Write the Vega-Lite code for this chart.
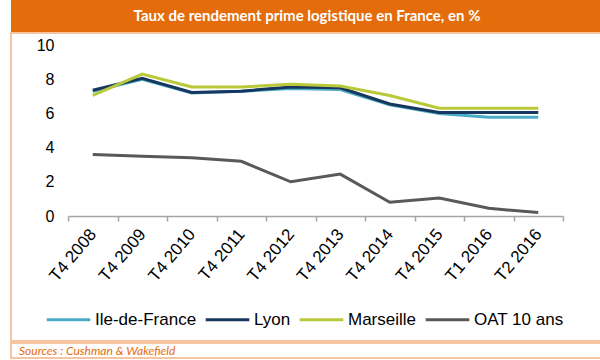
{
  "$schema": "https://vega.github.io/schema/vega-lite/v6.json",
  "background": "white",
  "padding": {"left": 3, "top": 0, "right": 0, "bottom": 0},
  "spacing": 0,
  "config": {"view": {"stroke": null}, "font": "Liberation Sans", "concat": {"spacing": 0}},
  "datasets": {
    "header": [{"h": "Taux de rendement prime logistique en France, en %"}],
    "footer": [{"f": "Sources : Cushman & Wakefield"}],
    "rates": [
      {"t": "T4 2008", "s": "Ile-de-France", "v": 7.3},
      {"t": "T4 2009", "s": "Ile-de-France", "v": 8.0},
      {"t": "T4 2010", "s": "Ile-de-France", "v": 7.2},
      {"t": "T4 2011", "s": "Ile-de-France", "v": 7.3},
      {"t": "T4 2012", "s": "Ile-de-France", "v": 7.45},
      {"t": "T4 2013", "s": "Ile-de-France", "v": 7.4},
      {"t": "T4 2014", "s": "Ile-de-France", "v": 6.5},
      {"t": "T4 2015", "s": "Ile-de-France", "v": 6.0},
      {"t": "T1 2016", "s": "Ile-de-France", "v": 5.78},
      {"t": "T2 2016", "s": "Ile-de-France", "v": 5.78},
      {"t": "T4 2008", "s": "Lyon", "v": 7.35},
      {"t": "T4 2009", "s": "Lyon", "v": 8.05},
      {"t": "T4 2010", "s": "Lyon", "v": 7.22},
      {"t": "T4 2011", "s": "Lyon", "v": 7.3},
      {"t": "T4 2012", "s": "Lyon", "v": 7.55},
      {"t": "T4 2013", "s": "Lyon", "v": 7.5},
      {"t": "T4 2014", "s": "Lyon", "v": 6.55},
      {"t": "T4 2015", "s": "Lyon", "v": 6.05},
      {"t": "T1 2016", "s": "Lyon", "v": 6.05},
      {"t": "T2 2016", "s": "Lyon", "v": 6.05},
      {"t": "T4 2008", "s": "Marseille", "v": 7.05},
      {"t": "T4 2009", "s": "Marseille", "v": 8.3},
      {"t": "T4 2010", "s": "Marseille", "v": 7.55},
      {"t": "T4 2011", "s": "Marseille", "v": 7.55},
      {"t": "T4 2012", "s": "Marseille", "v": 7.7},
      {"t": "T4 2013", "s": "Marseille", "v": 7.6},
      {"t": "T4 2014", "s": "Marseille", "v": 7.05},
      {"t": "T4 2015", "s": "Marseille", "v": 6.3},
      {"t": "T1 2016", "s": "Marseille", "v": 6.3},
      {"t": "T2 2016", "s": "Marseille", "v": 6.3},
      {"t": "T4 2008", "s": "OAT 10 ans", "v": 3.6},
      {"t": "T4 2009", "s": "OAT 10 ans", "v": 3.5},
      {"t": "T4 2010", "s": "OAT 10 ans", "v": 3.4},
      {"t": "T4 2011", "s": "OAT 10 ans", "v": 3.2},
      {"t": "T4 2012", "s": "OAT 10 ans", "v": 2.0},
      {"t": "T4 2013", "s": "OAT 10 ans", "v": 2.45},
      {"t": "T4 2014", "s": "OAT 10 ans", "v": 0.8},
      {"t": "T4 2015", "s": "OAT 10 ans", "v": 1.05},
      {"t": "T1 2016", "s": "OAT 10 ans", "v": 0.45},
      {"t": "T2 2016", "s": "OAT 10 ans", "v": 0.2}
    ]
  },
  "vconcat": [
    {
      "width": 592,
      "height": 32,
      "view": {"fill": "#E46C0A", "stroke": null},
      "data": {"name": "header"},
      "mark": {"type": "text", "color": "white", "font": "Lato", "fontWeight": "bold", "fontSize": 15, "baseline": "middle", "align": "center"},
      "encoding": {
        "text": {"field": "h", "type": "nominal"},
        "x": {"field": "h", "type": "nominal", "axis": null},
        "y": {"field": "h", "type": "nominal", "axis": null}
      }
    },
    {
      "width": 592,
      "height": 308,
      "view": {"fill": "white", "stroke": "#F4B183", "strokeWidth": 1.5},
      "data": {"name": "rates"},
      "mark": {"type": "line", "strokeWidth": 3},
      "encoding": {
        "x": {
          "field": "t", "type": "nominal", "sort": null,
          "scale": {"type": "band", "range": [57, 552], "paddingInner": 0, "paddingOuter": 0},
          "axis": {
            "title": null, "orient": "bottom", "offset": -125, "labelAngle": -50,
            "labelFontSize": 17, "labelColor": "black", "labelFont": "Liberation Sans",
            "domainColor": "#A6A6A6", "domainWidth": 1.5, "tickColor": "#A6A6A6", "tickWidth": 1.5, "tickSize": 5,
            "tickBand": "extent", "labelPadding": 10, "grid": false
          }
        },
        "y": {
          "field": "v", "type": "quantitative",
          "scale": {"domain": [0, 10], "range": [183, 12], "nice": false},
          "axis": {
            "title": null, "orient": "left", "offset": -57, "values": [0, 2, 4, 6, 8, 10],
            "domain": false, "ticks": false, "grid": false, "labelPadding": 14,
            "labelFontSize": 16, "labelColor": "black", "labelFont": "Liberation Sans"
          }
        },
        "color": {
          "field": "s", "type": "nominal",
          "scale": {"domain": ["Ile-de-France", "Lyon", "Marseille", "OAT 10 ans"], "range": ["#4BACC6", "#17375E", "#B9C93A", "#595959"]},
          "legend": {
            "title": null, "orient": "none", "direction": "horizontal", "legendX": 34, "legendY": 296,
            "symbolType": "stroke", "symbolSize": 1900, "symbolStrokeWidth": 3,
            "labelFontSize": 17, "labelColor": "black", "labelFont": "Liberation Sans",
            "labelOffset": 3, "columnPadding": 2
          }
        }
      }
    },
    {
      "width": 592,
      "height": 15,
      "view": {"fill": "white", "stroke": "#F4B183", "strokeWidth": 1.5},
      "data": {"name": "footer"},
      "mark": {"type": "text", "color": "#E46C0A", "font": "Lato", "fontStyle": "italic", "fontSize": 12, "baseline": "middle", "align": "left", "dx": 8},
      "encoding": {
        "text": {"field": "f", "type": "nominal"},
        "x": {"field": "f", "type": "nominal", "axis": null, "scale": {"type": "point", "padding": 0, "align": 0}},
        "y": {"field": "f", "type": "nominal", "axis": null}
      }
    }
  ]
}
